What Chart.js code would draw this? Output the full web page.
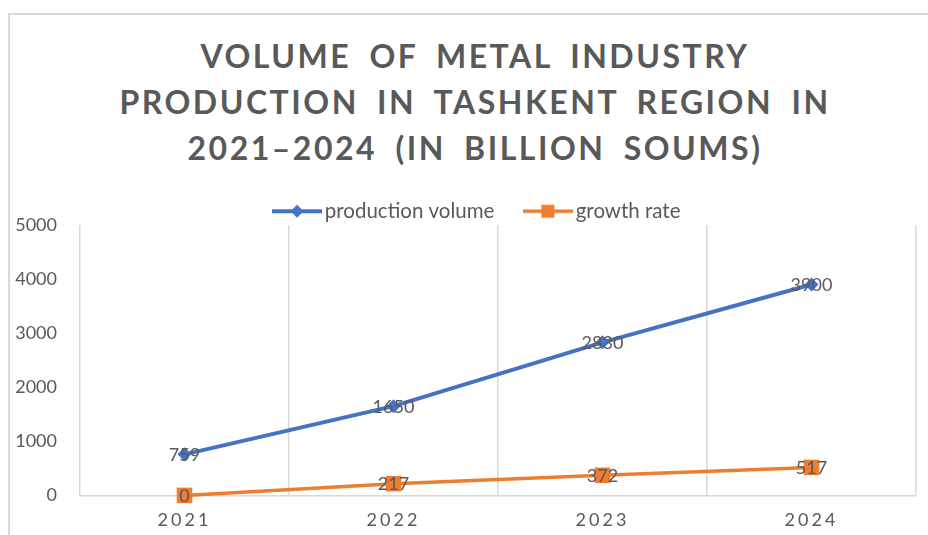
<!DOCTYPE html>
<html>
<head>
<meta charset="utf-8">
<script src="https://cdn.jsdelivr.net/npm/chart.js@4.4.1/dist/chart.umd.min.js"></script>
<style>
    html, body { margin: 0; padding: 0; width: 928px; height: 535px; overflow: hidden; background: #fff; }
    #frame { position: absolute; left: 8px; top: 13px; width: 1000px; height: 600px; border-left: 2px solid #d9d9d9; border-top: 2px solid #d9d9d9; }
    #title { position: absolute; left: 0; top: 33px; width: 950px; text-align: center; font-family: Lato, sans-serif; font-weight: 700; font-size: 32px; line-height: 46px; letter-spacing: 2.5px; word-spacing: 8px; color: #595959; }
    #wrap { position: absolute; left: 0; top: 0; width: 928px; height: 549px; }
</style>
</head>
<body>
<div id="frame"></div>
<div id="title">VOLUME OF METAL INDUSTRY<br>PRODUCTION IN TASHKENT REGION IN<br>2021–2024 (IN BILLION SOUMS)</div>
<div id="wrap"><canvas id="chart"></canvas></div>
<script>
const years = ['2021', '2022', '2023', '2024'];
const productionVolume = [759, 1650, 2830, 3900];
const growthRate = [0, 217, 372, 517];
const seriesNames = ['production volume', 'growth rate'];
const yMin = 0, yMax = 5000, yStep = 1000;

const BLUE = '#4472c4';
const ORANGE = '#ed7d31';
const TEXT = '#595959';
const GRID = '#d9d9d9';

// category axis with spaced-out labels, like the Excel original
class SpacedCategoryScale extends Chart.CategoryScale {
    drawLabels(area) {
        this.ctx.save();
        this.ctx.letterSpacing = '3px';
        super.drawLabels(area);
        this.ctx.restore();
    }
}
SpacedCategoryScale.id = 'spacedCategory';
SpacedCategoryScale.defaults = Chart.CategoryScale.defaults;
Chart.register(SpacedCategoryScale);

// line + marker icon for the legend
function legendIcon(color, shape, r, lw) {
    const c = document.createElement('canvas');
    c.width = 50; c.height = 18;
    const g = c.getContext('2d');
    g.strokeStyle = color;
    g.lineWidth = lw;
    g.beginPath(); g.moveTo(0, 9); g.lineTo(50, 9); g.stroke();
    g.fillStyle = color;
    g.beginPath();
    if (shape === 'diamond') {
        g.moveTo(25 - r, 9); g.lineTo(25, 9 - r); g.lineTo(25 + r, 9); g.lineTo(25, 9 + r);
    } else {
        g.rect(25 - r, 9 - r, 2 * r, 2 * r);
    }
    g.fill();
    return c;
}
const legendIcons = [legendIcon(BLUE, 'diamond', 6.5, 4), legendIcon(ORANGE, 'square', 6.5, 3.5)];

// value labels centred on each point
const pointLabels = {
    id: 'pointLabels',
    afterDatasetsDraw(chart) {
        const ctx = chart.ctx;
        ctx.save();
        ctx.font = '18px Lato';
        ctx.fillStyle = TEXT;
        ctx.textAlign = 'center';
        ctx.textBaseline = 'middle';
        chart.data.datasets.forEach((ds, i) => {
            chart.getDatasetMeta(i).data.forEach((pt, j) => {
                ctx.fillText(String(ds.data[j]), pt.x, pt.y + 1);
            });
        });
        ctx.restore();
    }
};

// the legend sits a little right of the canvas centre in the original
const legendShift = {
    id: 'legendShift',
    afterLayout(chart) {
        chart.legend.left += 18;
        chart.legend.right += 18;
    }
};

Chart.defaults.font.family = 'Lato, sans-serif';
Chart.defaults.color = TEXT;

new Chart(document.getElementById('chart'), {
    type: 'line',
    data: {
        labels: years,
        datasets: [
            { label: seriesNames[0], data: productionVolume, borderColor: BLUE, backgroundColor: BLUE, borderWidth: 4,
              pointStyle: 'rectRot', pointRadius: 7, pointBorderWidth: 0, tension: 0, clip: false },
            { label: seriesNames[1], data: growthRate, borderColor: ORANGE, backgroundColor: ORANGE, borderWidth: 3.5,
              pointStyle: 'rect', pointRadius: 11, pointBorderWidth: 0, tension: 0, clip: false }
        ]
    },
    options: {
        responsive: true,
        maintainAspectRatio: false,
        animation: false,
        layout: { padding: { top: 165, left: 8, right: 12, bottom: 4 } },
        scales: {
            x: {
                type: 'spacedCategory',
                offset: true,
                grid: { offset: true, color: GRID, lineWidth: 1.5, drawTicks: false },
                border: { color: GRID, width: 1.5 },
                ticks: { padding: 14, color: TEXT, font: { size: 18 } }
            },
            y: {
                min: yMin, max: yMax,
                grid: { display: false, drawTicks: false },
                border: { display: false },
                ticks: { stepSize: yStep, padding: 23, color: TEXT, font: { size: 18 }, callback: v => String(v) },
                afterFit(scale) { scale.width = 72; }
            }
        },
        plugins: {
            legend: {
                position: 'top',
                maxHeight: 60,
                labels: {
                    usePointStyle: true,
                    pointStyleWidth: 35,
                    padding: 36,
                    color: TEXT,
                    font: { size: 20.5 },
                    generateLabels(chart) {
                        const items = Chart.defaults.plugins.legend.labels.generateLabels(chart);
                        items.forEach((it, i) => { it.pointStyle = legendIcons[i]; });
                        return items;
                    }
                }
            },
            tooltip: { enabled: false }
        }
    },
    plugins: [pointLabels, legendShift]
});
</script>
</body>
</html>
